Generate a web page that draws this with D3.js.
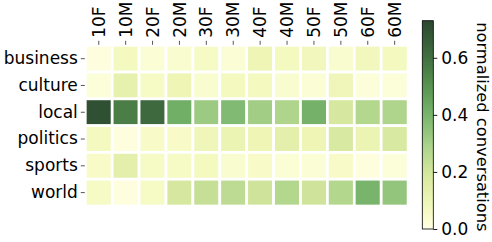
<!DOCTYPE html>
<html>
<head>
<meta charset="utf-8">
<script src="https://cdn.jsdelivr.net/npm/d3@7"></script>
<style>
  body { margin: 0; background: #fff; }
  text { font-family: "DejaVu Sans", sans-serif; fill: #000; }
</style>
</head>
<body>
<div id="chart"></div>
<script>
// categories
const topics = ["business", "culture", "local", "politics", "sports", "world"];
const groups = ["10F", "10M", "20F", "20M", "30F", "30M", "40F", "40M", "50F", "50M", "60F", "60M"];

// normalized conversations, one array per topic (same order as groups)
const business = [0.01, 0.07, 0.03, 0.04, 0.06, 0.03, 0.10, 0.07, 0.08, 0.04, 0.08, 0.07];
const culture  = [0.02, 0.13, 0.06, 0.10, 0.04, 0.07, 0.07, 0.04, 0.03, 0.09, 0.02, 0.02];
const local    = [0.70, 0.56, 0.62, 0.42, 0.32, 0.38, 0.31, 0.28, 0.41, 0.19, 0.27, 0.28];
const politics = [0.07, 0.01, 0.05, 0.05, 0.09, 0.11, 0.10, 0.14, 0.10, 0.18, 0.11, 0.18];
const sports   = [0.05, 0.14, 0.06, 0.06, 0.07, 0.04, 0.05, 0.03, 0.03, 0.05, 0.01, 0.02];
const world    = [0.06, 0.01, 0.06, 0.19, 0.23, 0.25, 0.21, 0.27, 0.21, 0.27, 0.40, 0.34];

const colorTicks = [0.0, 0.2, 0.4, 0.6];
const vmax = 0.73;

const rows = [business, culture, local, politics, sports, world];
const cells = [];
topics.forEach((t, i) => groups.forEach((g, j) => cells.push({topic: t, group: g, value: rows[i][j]})));

const W = 492, H = 242;
const svg = d3.select("#chart").append("svg")
    .attr("width", W).attr("height", H);

// heatmap area
const hm = {left: 85.3, right: 408.1, top: 45.3, bottom: 206};

const x = d3.scaleBand().domain(groups).range([hm.left, hm.right]);
const y = d3.scaleBand().domain(topics).range([hm.top, hm.bottom]);

// colour map (yellow -> dark green)
const color = d3.scaleLinear()
    .domain([0, 0.05, 0.1, 0.2, 0.3, 0.4, 0.5, 0.6, vmax])
    .range(["#ffffe5", "#f8fbc8", "#eef5b5", "#d3e69c", "#a6d088", "#78b46c", "#579450", "#416f40", "#2b4730"])
    .clamp(true);

svg.append("g")
    .selectAll("rect")
    .data(cells)
    .join("rect")
    .attr("x", d => x(d.group))
    .attr("y", d => y(d.topic))
    .attr("width", x.bandwidth())
    .attr("height", y.bandwidth())
    .attr("fill", d => color(d.value))
    .attr("stroke", "#fff")
    .attr("stroke-width", 2.7);

// y axis (left)
const yAxis = svg.append("g")
    .attr("transform", `translate(${hm.left - 0.5},0)`)
    .call(d3.axisLeft(y).tickSize(4).tickPadding(3));
yAxis.select(".domain").remove();
yAxis.selectAll("line").attr("stroke", "#444").attr("stroke-width", 0.9);
yAxis.selectAll("text").style("font-size", "17px").style("font-family", "DejaVu Sans");

// x axis (top, rotated labels)
const xAxis = svg.append("g")
    .attr("transform", `translate(0,${hm.top - 0.5})`)
    .call(d3.axisTop(x).tickSize(4).tickPadding(3));
xAxis.select(".domain").remove();
xAxis.selectAll("line").attr("stroke", "#444").attr("stroke-width", 0.9);
xAxis.selectAll("text")
    .style("font-size", "17px")
    .style("font-family", "DejaVu Sans")
    .attr("text-anchor", "start")
    .attr("transform", "rotate(-90)")
    .attr("x", 7)
    .attr("y", 0)
    .attr("dy", "0.36em");

// colour bar
const cb = {x: 422.3, w: 11, top: 20.7, bottom: 229};
const cbScale = d3.scaleLinear().domain([0, vmax]).range([cb.bottom, cb.top]);

const defs = svg.append("defs");
const grad = defs.append("linearGradient")
    .attr("id", "cbgrad")
    .attr("x1", 0).attr("y1", 1).attr("x2", 0).attr("y2", 0);
d3.range(0, 1.0001, 0.05).forEach(t => {
  grad.append("stop").attr("offset", t).attr("stop-color", color(t * vmax));
});

svg.append("rect")
    .attr("x", cb.x).attr("y", cb.top)
    .attr("width", cb.w).attr("height", cb.bottom - cb.top)
    .attr("fill", "url(#cbgrad)")
    .attr("stroke", "#000")
    .attr("stroke-width", 0.8);

const cAxis = svg.append("g")
    .attr("transform", `translate(${cb.x + cb.w},0)`)
    .call(d3.axisRight(cbScale).tickValues(colorTicks).tickFormat(d3.format(".1f")).tickSize(4).tickPadding(4));
cAxis.select(".domain").remove();
cAxis.selectAll("line").attr("stroke", "#000").attr("stroke-width", 0.9);
cAxis.selectAll("text").style("font-size", "17px").style("font-family", "DejaVu Sans");

svg.append("text")
    .attr("transform", `translate(477,${(cb.top + cb.bottom) / 2 + 2}) rotate(90)`)
    .attr("text-anchor", "middle")
    .style("font-size", "16.3px")
    .text("normalized conversations");
</script>
</body>
</html>
